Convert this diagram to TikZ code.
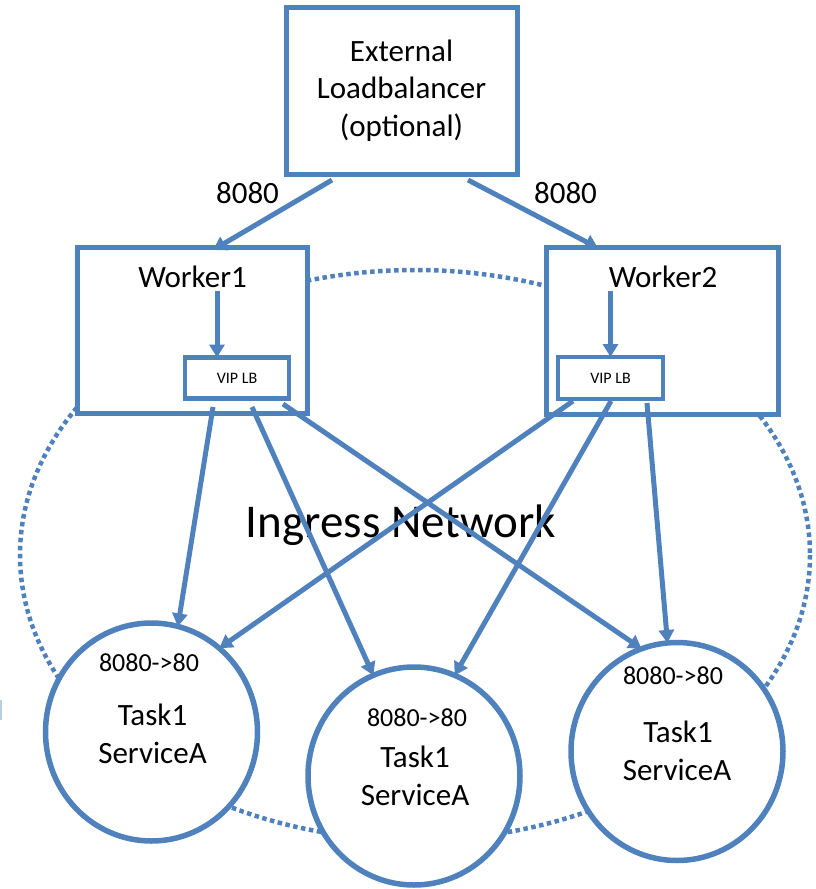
\documentclass[tikz,border=0pt]{standalone}
\usepackage{fontspec}
\setmainfont{Carlito}
\usetikzlibrary{arrows.meta,calc,shapes.geometric}
\definecolor{office}{HTML}{4F81BD}
\tikzset{
  box/.style={draw=office, fill=white, rectangle, line width=5pt, outer sep=0pt, inner sep=0pt},
  vipbox/.style={box, line width=4.5pt, font=\fontsize{16}{18}\selectfont},
  task/.style={ellipse, draw=office, fill=white, line width=5.5pt, minimum width=212pt, minimum height=218pt, inner sep=0pt, outer sep=0pt},
  flow/.style={draw=office, line width=5pt, -{Triangle[length=13pt,width=15pt]}},
  ring/.style={draw=office, line width=4.5pt, dash pattern=on 4.5pt off 3.5pt},
  txtbig/.style={font=\fontsize{31}{37.5}\selectfont},
  txtport/.style={font=\fontsize{26}{30}\selectfont},
  txttitle/.style={font=\fontsize{47}{54}\selectfont},
}
\begin{document}
\begin{tikzpicture}[x=1pt,y=-1pt]
\useasboundingbox (0,0) rectangle (815,889);

% dotted outline of the ingress network
\draw[ring] (415,555) ellipse [x radius=395, y radius=285];
\node[txttitle, anchor=base] (ingress) at (401,537) {Ingress Network};

% load balancer and worker boxes
\node[box, minimum width=231pt, minimum height=167pt, txtbig, align=center] (ext) at (401.5,90.5) {External\\Loadbalancer\\(optional)};
\node[box, minimum width=230pt, minimum height=166pt] (w1) at (192,330) {};
\node[box, minimum width=232pt, minimum height=167pt] (w2) at (662,330.5) {};
\node[txtbig, anchor=base] (w1title) at (192.5,287) {Worker1};
\node[txtbig, anchor=base] (w2title) at (663,287) {Worker2};
\node[vipbox, minimum width=104pt, minimum height=41pt] (vip1) at (237,378) {VIP LB};
\node[vipbox, minimum width=105pt, minimum height=42pt] (vip2) at (610.5,378) {VIP LB};

% published port labels
\node[txtbig, anchor=base] (p1) at (247.5,203) {8080};
\node[txtbig, anchor=base] (p2) at (565.5,203) {8080};

% service tasks
\node[task] (t1) at (151.5,732) {};
\node[task] (t2) at (414,776) {};
\node[task] (t3) at (677,751.5) {};
\node[txtport, anchor=base] (t1port) at (149,671) {8080->80};
\node[txtbig, anchor=base] (t1name) at (152.5,725) {Task1};
\node[txtbig, anchor=base] (t1svc) at (152.5,763) {ServiceA};
\node[txtport, anchor=base] (t2port) at (417,726) {8080->80};
\node[txtbig, anchor=base] (t2name) at (415,767) {Task1};
\node[txtbig, anchor=base] (t2svc) at (415,805) {ServiceA};
\node[txtport, anchor=base] (t3port) at (673,684) {8080->80};
\node[txtbig, anchor=base] (t3name) at (678,742) {Task1};
\node[txtbig, anchor=base] (t3svc) at (677,780) {ServiceA};

% external load balancer to the workers
\draw[flow] ($(ext.south west)+(46,6)$) -- ($(w1.north west)+(136,3)$);
\draw[flow] ($(ext.south west)+(182,6)$) -- ($(w2.north west)+(52,1)$);

% inside each worker: to its VIP load balancer
\draw[flow] ([xshift=-20pt]vip1.north |- w1title.south) -- ([xshift=-20pt]vip1.north);
\draw[flow] (vip2.north |- w2title.south) -- (vip2.north);

% VIP load balancers to every task
\draw[flow] ($(vip1.south west)+(28,8.5)$) -- (t1.76);
\draw[flow] ($(vip1.south west)+(67,8.5)$) -- (t2.112);
\draw[flow] ($(vip1.south west)+(98,5.5)$) -- (t3.109);
\draw[flow] ($(vip2.south west)+(15,2)$) -- (t1.51);
\draw[flow] ($(vip2.south west)+(53,2)$) -- (t2.68);
\draw[flow] ($(vip2.south west)+(89,4)$) -- (t3.95);

\fill[office!40] (0,700) rectangle (1.5,720);
\end{tikzpicture}
\end{document}
